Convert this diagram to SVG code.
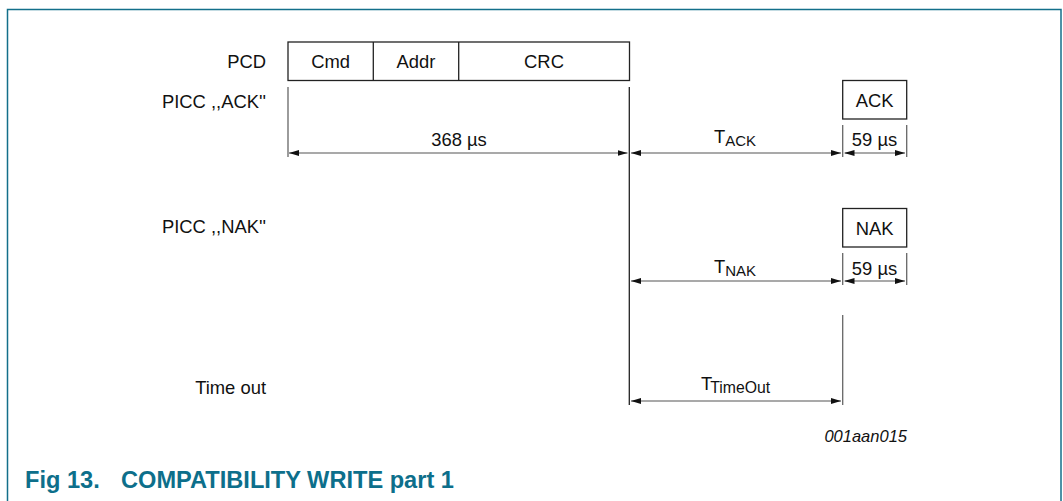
<svg xmlns="http://www.w3.org/2000/svg" width="1063" height="501" viewBox="0 0 1063 501">
<defs>
<style>
.t{font-family:"Liberation Sans",Arial,sans-serif;font-size:18.4px;fill:#111}
.r{text-anchor:end}
.m{text-anchor:middle}
.sub{font-size:15px}
.box{fill:#fff;stroke:#222;stroke-width:1.3}
.tick{stroke:#666;stroke-width:1.3;fill:none}
.main{stroke:#222;stroke-width:1.3;fill:none}
.dim{stroke:#555;stroke-width:1.2;fill:none;marker-start:url(#ah);marker-end:url(#ah)}
.title{font-family:"Liberation Sans",Arial,sans-serif;font-size:23.6px;font-weight:bold;fill:#0d6f8b}
</style>
<marker id="ah" viewBox="0 0 10 6" refX="10" refY="3" markerWidth="10" markerHeight="6" markerUnits="userSpaceOnUse" orient="auto-start-reverse">
<path d="M0,0 L10,3 L0,6 Z" fill="#111"/>
</marker>
</defs>
<rect width="1063" height="501" fill="#fff"/>
<path d="M7.5,501 V9.5 H1061 V501" fill="none" stroke="#136f8a" stroke-width="1.5"/>

<g id="labels">
<text class="t r" x="266" y="68">PCD</text>
<text class="t r" x="266" y="108">PICC ,,ACK''</text>
<text class="t r" x="266" y="233">PICC ,,NAK''</text>
<text class="t r" x="266" y="394">Time out</text>
</g>

<g id="pcd">
<rect class="box" x="288" y="42" width="341.5" height="38.5"/>
<line class="main" x1="373.3" y1="42" x2="373.3" y2="80.5"/>
<line class="main" x1="458.7" y1="42" x2="458.7" y2="80.5"/>
<text class="t m" x="330.6" y="68">Cmd</text>
<text class="t m" x="416" y="68">Addr</text>
<text class="t m" x="544" y="68">CRC</text>
</g>

<g id="ack">
<rect class="box" x="842.7" y="80.5" width="64" height="38.5"/>
<text class="t m" x="874.7" y="107">ACK</text>
</g>

<g id="nak">
<rect class="box" x="842.7" y="208.5" width="64" height="38.5"/>
<text class="t m" x="874.7" y="235">NAK</text>
</g>

<g id="connectors">
<line class="tick" x1="288" y1="87" x2="288" y2="157"/>
<line class="main" x1="629.3" y1="87" x2="629.3" y2="405"/>
<line class="tick" x1="842.7" y1="125" x2="842.7" y2="157"/>
<line class="tick" x1="906.7" y1="125" x2="906.7" y2="157"/>
<line class="tick" x1="842.7" y1="253" x2="842.7" y2="285"/>
<line class="tick" x1="906.7" y1="253" x2="906.7" y2="285"/>
<line class="tick" x1="842.7" y1="315" x2="842.7" y2="405"/>

<line class="dim" x1="289" y1="153" x2="627.5" y2="153"/>
<line class="dim" x1="631" y1="153" x2="841" y2="153"/>
<line class="dim" x1="844.5" y1="153" x2="905" y2="153"/>
<line class="dim" x1="631" y1="281" x2="841" y2="281"/>
<line class="dim" x1="844.5" y1="281" x2="905" y2="281"/>
<line class="dim" x1="631" y1="401" x2="841" y2="401"/>
</g>

<g id="dimlabels">
<text class="t m" x="459" y="146">368 µs</text>
<text class="t" x="714" y="143">T<tspan class="sub" dy="3">ACK</tspan></text>
<text class="t m" x="874.5" y="146">59 µs</text>
<text class="t" x="714" y="273">T<tspan class="sub" dy="3">NAK</tspan></text>
<text class="t m" x="874.5" y="275">59 µs</text>
<text class="t" x="701" y="389.5">T<tspan class="sub" dx="-2" dy="3.2" style="font-size:15.8px">TimeOut</tspan></text>
</g>

<text class="t r" x="907" y="441.5" style="font-size:16.5px;font-style:italic">001aan015</text>

<g id="caption">
<text class="title" x="25" y="488">Fig 13.</text>
<text class="title" x="121" y="488">COMPATIBILITY WRITE part 1</text>
</g>
</svg>
